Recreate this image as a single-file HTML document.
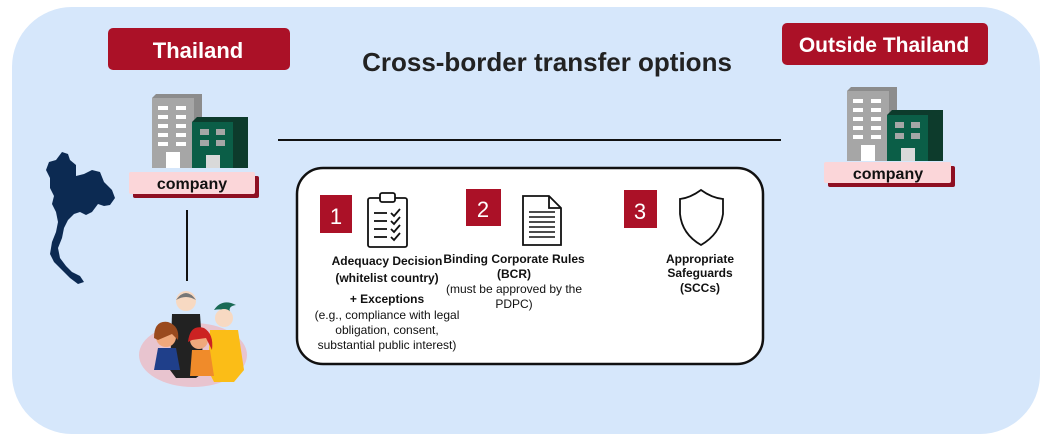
<!DOCTYPE html>
<html><head><meta charset="utf-8"><style>
html,body{margin:0;padding:0;background:#fff;}
svg{display:block;font-family:"Liberation Sans",Arial,sans-serif;}
</style></head><body>
<svg width="1053" height="441" viewBox="0 0 1053 441" xmlns="http://www.w3.org/2000/svg">
<defs>
<g id="bld">
  <polygon points="0,4 4,0 50,0 50,74 0,74" fill="#8c8c8c"/>
  <rect x="0" y="4" width="42" height="70" fill="#a6a6a6"/>
  <g fill="#fff">
    <rect x="6" y="12" width="10" height="4"/><rect x="24" y="12" width="10" height="4"/>
    <rect x="6" y="21" width="10" height="4"/><rect x="24" y="21" width="10" height="4"/>
    <rect x="6" y="30" width="10" height="4"/><rect x="24" y="30" width="10" height="4"/>
    <rect x="6" y="39" width="10" height="4"/><rect x="24" y="39" width="10" height="4"/>
    <rect x="6" y="48" width="10" height="4"/><rect x="24" y="48" width="10" height="4"/>
    <rect x="14" y="58" width="14" height="16"/>
  </g>
  <polygon points="40,28 45,23 96,23 96,74 40,74" fill="#0d3b2c"/>
  <rect x="40" y="28" width="41" height="46" fill="#0b5e47"/>
  <g fill="#a6a6a6"><rect x="48" y="35" width="9" height="6"/><rect x="64" y="35" width="9" height="6"/><rect x="48" y="46" width="9" height="6"/><rect x="64" y="46" width="9" height="6"/></g>
  <rect x="54" y="61" width="14" height="13" fill="#d9d9d9"/>
</g>
</defs>
<rect x="12" y="7" width="1028" height="427" rx="60" fill="#d6e7fb"/>
<!-- labels -->
<rect x="108" y="28" width="182" height="42" rx="5" fill="#ab1127"/>
<text x="198" y="58" font-size="22" font-weight="bold" fill="#fff" text-anchor="middle">Thailand</text>
<rect x="782" y="23" width="206" height="42" rx="5" fill="#ab1127"/>
<text x="884" y="52" font-size="21" font-weight="bold" fill="#fff" text-anchor="middle">Outside Thailand</text>
<text x="547" y="71" font-size="26" font-weight="bold" fill="#222" text-anchor="middle">Cross-border transfer options</text>
<line x1="278" y1="140" x2="781" y2="140" stroke="#111" stroke-width="2"/>
<!-- left company -->
<use href="#bld" x="152" y="94"/>
<rect x="133" y="176" width="126" height="22" rx="2" fill="#8e0f22"/>
<rect x="129" y="172" width="126" height="22" rx="2" fill="#fbd6d9"/>
<text x="192" y="189" font-size="16" font-weight="bold" fill="#111" text-anchor="middle">company</text>
<line x1="187" y1="210" x2="187" y2="281" stroke="#111" stroke-width="2"/>
<!-- right company -->
<use href="#bld" x="847" y="87"/>
<rect x="828" y="166" width="127" height="21" rx="2" fill="#8e0f22"/>
<rect x="824" y="162" width="127" height="21" rx="2" fill="#fbd6d9"/>
<text x="888" y="179" font-size="16" font-weight="bold" fill="#111" text-anchor="middle">company</text>
<!-- map -->
<path d="M49,162 L56,160 L62,152 L68,154 L70,160 L76,165 L76,176 L84,174 L92,170 L100,172 L104,182 L112,190 L115,198 L110,205 L104,206 L98,204 L92,212 L86,215 L80,212 L74,214 L68,220 L64,228 L62,238 L58,248 L60,258 L66,266 L72,272 L80,276 L84,282 L78,284 L70,278 L62,270 L54,262 L50,254 L52,242 L56,232 L58,222 L56,212 L52,204 L54,196 L50,188 L50,178 L46,170 Z" fill="#0c2a52"/>
<!-- people -->
<ellipse cx="193" cy="355" rx="54" ry="32" fill="#e8c4cf"/>
<circle cx="186" cy="301" r="10" fill="#f7d9c2"/>
<path d="M176,300 Q186,286 196,300 Q186,294 176,300Z" fill="#777"/>
<path d="M172,314 L200,314 L204,372 L196,378 L176,378 L170,370Z" fill="#222"/>
<path d="M214,310 Q222,298 236,305 Q228,306 230,312 Q222,308 214,310Z" fill="#1a6a55"/>
<circle cx="224" cy="318" r="9" fill="#f7d9c2"/>
<path d="M210,330 L238,330 L244,370 L234,382 L214,382 L208,370Z" fill="#fbbd17"/>
<circle cx="166" cy="337" r="10" fill="#f0a97c"/>
<path d="M154,338 Q154,320 168,322 Q180,326 178,340 L172,334 L158,340Z" fill="#9a4a1e"/>
<path d="M158,348 L176,348 L180,370 L154,370Z" fill="#1f3f8a"/>
<circle cx="199" cy="340" r="9" fill="#f0a97c"/>
<path d="M188,342 Q190,324 204,328 Q214,334 212,350 L206,338 L192,340Z" fill="#cc2222"/>
<path d="M192,350 L210,350 L214,376 L190,376Z" fill="#f08b2a"/>
<!-- options box -->
<rect x="297" y="168" width="466" height="196" rx="26" fill="#fff" stroke="#111" stroke-width="2.5"/>
<rect x="320" y="195" width="32" height="38" fill="#ab1127"/>
<text x="336" y="224" font-size="22" fill="#fff" text-anchor="middle">1</text>
<rect x="466" y="189" width="35" height="37" fill="#ab1127"/>
<text x="483" y="217" font-size="22" fill="#fff" text-anchor="middle">2</text>
<rect x="624" y="190" width="33" height="38" fill="#ab1127"/>
<text x="640" y="219" font-size="22" fill="#fff" text-anchor="middle">3</text>
<!-- clipboard -->
<g fill="none" stroke="#111" stroke-width="1.8">
<rect x="368" y="198" width="39" height="49" rx="2"/>
<rect x="380" y="193" width="15" height="9" rx="2" fill="#fff"/>
<line x1="374" y1="213" x2="387" y2="213"/><polyline points="391,213 394,216 400,209"/>
<line x1="374" y1="221" x2="387" y2="221"/><polyline points="391,221 394,224 400,217"/>
<line x1="374" y1="229" x2="387" y2="229"/><polyline points="391,229 394,232 400,225"/>
<line x1="374" y1="237" x2="387" y2="237"/><polyline points="391,237 394,240 400,233"/>
</g>
<!-- document -->
<g fill="none" stroke="#111" stroke-width="1.8">
<path d="M523,196 L549,196 L561,208 L561,245 L523,245Z"/>
<path d="M549,196 L549,208 L561,208"/>
</g>
<g stroke="#111" stroke-width="1.5">
<line x1="529" y1="212" x2="555" y2="212"/><line x1="529" y1="217" x2="555" y2="217"/><line x1="529" y1="222" x2="555" y2="222"/><line x1="529" y1="227" x2="555" y2="227"/><line x1="529" y1="232" x2="555" y2="232"/><line x1="529" y1="237" x2="555" y2="237"/>
</g>
<!-- shield -->
<path d="M701,190 Q690,198 680,199 L680,214 Q682,234 701,245 Q720,234 723,214 L723,199 Q712,198 701,190Z" fill="none" stroke="#111" stroke-width="1.8"/>
<g font-size="12" fill="#111" text-anchor="middle">
<text x="387" y="265" font-weight="bold">Adequacy  Decision</text>
<text x="387" y="282" font-weight="bold">(whitelist  country)</text>
<text x="387" y="303" font-weight="bold">+ Exceptions</text>
<text x="387" y="319">(e.g., compliance with legal</text>
<text x="387" y="334">obligation, consent,</text>
<text x="387" y="349">substantial public interest)</text>
<text x="514" y="263" font-weight="bold">Binding  Corporate  Rules</text>
<text x="514" y="278" font-weight="bold">(BCR)</text>
<text x="514" y="293">(must be approved by the</text>
<text x="514" y="308">PDPC)</text>
<text x="700" y="263" font-weight="bold">Appropriate</text>
<text x="700" y="277" font-weight="bold">Safeguards</text>
<text x="700" y="292" font-weight="bold">(SCCs)</text>
</g>
</svg>
</body></html>
